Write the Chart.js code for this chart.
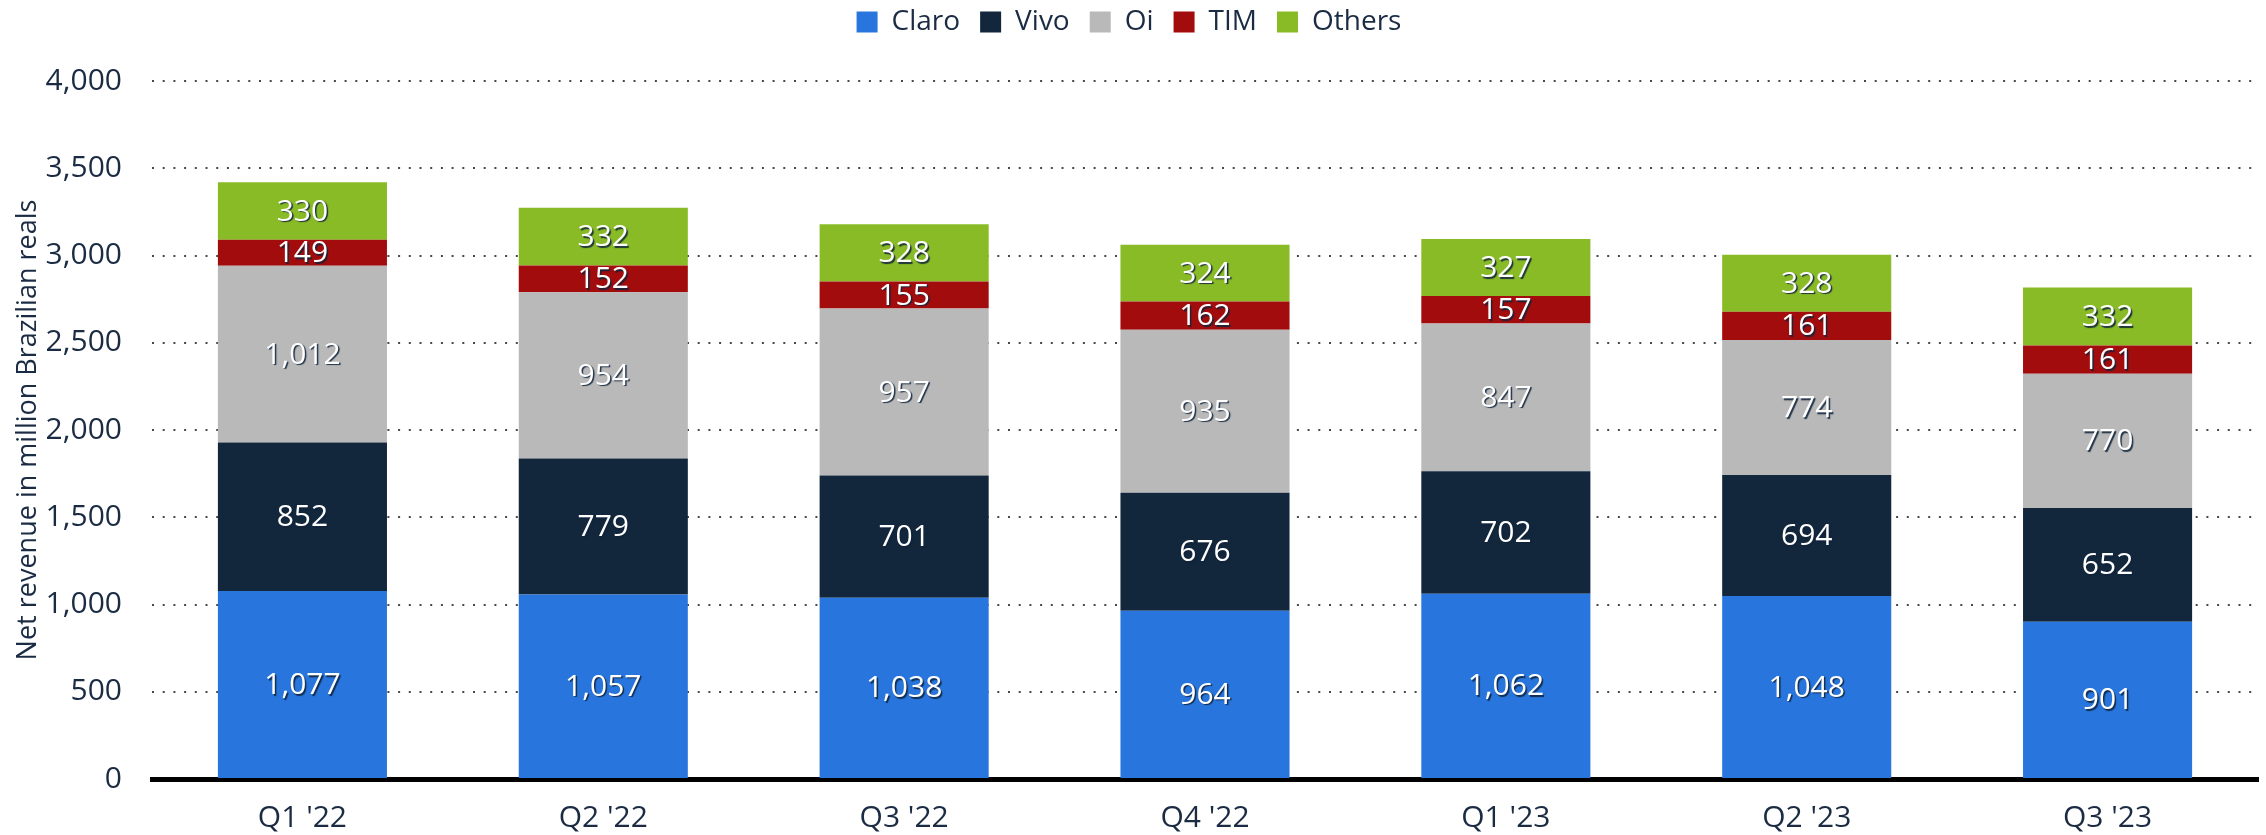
<!DOCTYPE html>
<html>
<head>
<meta charset="utf-8">
<script src="https://cdn.jsdelivr.net/npm/chart.js@4"></script>
<style>
  html, body { margin: 0; padding: 0; background: #fff; }
  #wrap { width: 2266px; height: 835px; position: relative; }
</style>
</head>
<body>
<div id="wrap"><canvas id="myBar"></canvas></div>
<script>
  const quarters = ["Q1 '22", "Q2 '22", "Q3 '22", "Q4 '22", "Q1 '23", "Q2 '23", "Q3 '23"];
  const claro  = [1077, 1057, 1038, 964, 1062, 1048, 901];
  const vivo   = [852, 779, 701, 676, 702, 694, 652];
  const oi     = [1012, 954, 957, 935, 847, 774, 770];
  const tim    = [149, 152, 155, 162, 157, 161, 161];
  const others = [330, 332, 328, 324, 327, 328, 332];
  const yTicks = [0, 500, 1000, 1500, 2000, 2500, 3000, 3500, 4000];

  const textColor = "#1a2b43";
  const font = "'Open Sans', 'Noto Sans', sans-serif";

  // white numbers with a small dark shadow, centred in every segment
  const segLabels = {
    id: 'segLabels',
    afterDatasetsDraw(chart) {
      const ctx = chart.ctx;
      ctx.save();
      ctx.font = "30px " + font;
      ctx.textAlign = 'center';
      ctx.textBaseline = 'middle';
      ctx.fillStyle = '#fff';
      ctx.shadowColor = 'rgba(15,35,60,0.9)';
      ctx.shadowOffsetX = 1.5;
      ctx.shadowOffsetY = 1.5;
      ctx.shadowBlur = 1;
      chart.data.datasets.forEach((ds, i) => {
        chart.getDatasetMeta(i).data.forEach((bar, j) => {
          const y = (bar.y + bar.base) / 2;
          ctx.fillText(ds.data[j].toLocaleString('en-US'), bar.x, y + 1);
        });
      });
      ctx.restore();
    }
  };

  // the legend sits higher than the layout would put it
  const liftLegend = {
    id: 'liftLegend',
    afterLayout(chart) {
      chart.legend.top -= 35;
      chart.legend.bottom -= 35;
    }
  };

  const ctx2 = document.getElementById('myBar');

  const myBar = new Chart(ctx2, {
    type: 'bar',
    data: {
      labels: quarters,
      datasets: [
        { label: 'Claro',  data: claro,  backgroundColor: "#2876dd" },
        { label: 'Vivo',   data: vivo,   backgroundColor: "#12263c" },
        { label: 'Oi',     data: oi,     backgroundColor: "#b9b9b9" },
        { label: 'TIM',    data: tim,    backgroundColor: "#a30c0c" },
        { label: 'Others', data: others, backgroundColor: "#89bb26" },
      ]
    },
    options: {
      responsive: true,
      maintainAspectRatio: false,
      animation: false,
      datasets: {
        bar: {
          categoryPercentage: 1,
          barPercentage: 0.562,
          borderWidth: 0,
        }
      },
      layout: { padding: { left: 0, right: 8, top: 23, bottom: 0 } },
      plugins: {
        legend: {
          display: true,
          position: 'top',
          labels: {
            boxWidth: 21,
            boxHeight: 21,
            padding: 20,
            color: textColor,
            font: { family: font, size: 28 },
          }
        },
        tooltip: { enabled: false }
      },
      scales: {
        x: {
          stacked: true,
          afterFit(scale) { scale.height = 56; },
          grid: { display: false, drawTicks: false },
          border: { display: true, color: '#000', width: 5 },
          ticks: {
            color: textColor,
            padding: 21,
            font: { family: font, size: 30 },
          }
        },
        y: {
          stacked: true,
          min: 0,
          max: 4000,
          afterFit(scale) { scale.width = 152; },
          afterBuildTicks(scale) { scale.ticks = yTicks.map(v => ({ value: v })); },
          grid: {
            drawTicks: false,
            color: (c) => c.tick && c.tick.value === 0 ? 'rgba(0,0,0,0)' : 'rgba(40,40,40,0.85)',
            lineWidth: 2,
          },
          border: { display: false, dash: [2, 8.7] },
          ticks: {
            color: textColor,
            padding: 30,
            font: { family: font, size: 30 },
            callback: (v) => v.toLocaleString('en-US'),
          },
          title: {
            display: true,
            text: 'Net revenue in million Brazilian reals',
            color: textColor,
            font: { family: font, size: 27 },
            padding: { top: 12, bottom: 0 },
          }
        }
      }
    },
    plugins: [segLabels, liftLegend]
  });
</script>
</body>
</html>
